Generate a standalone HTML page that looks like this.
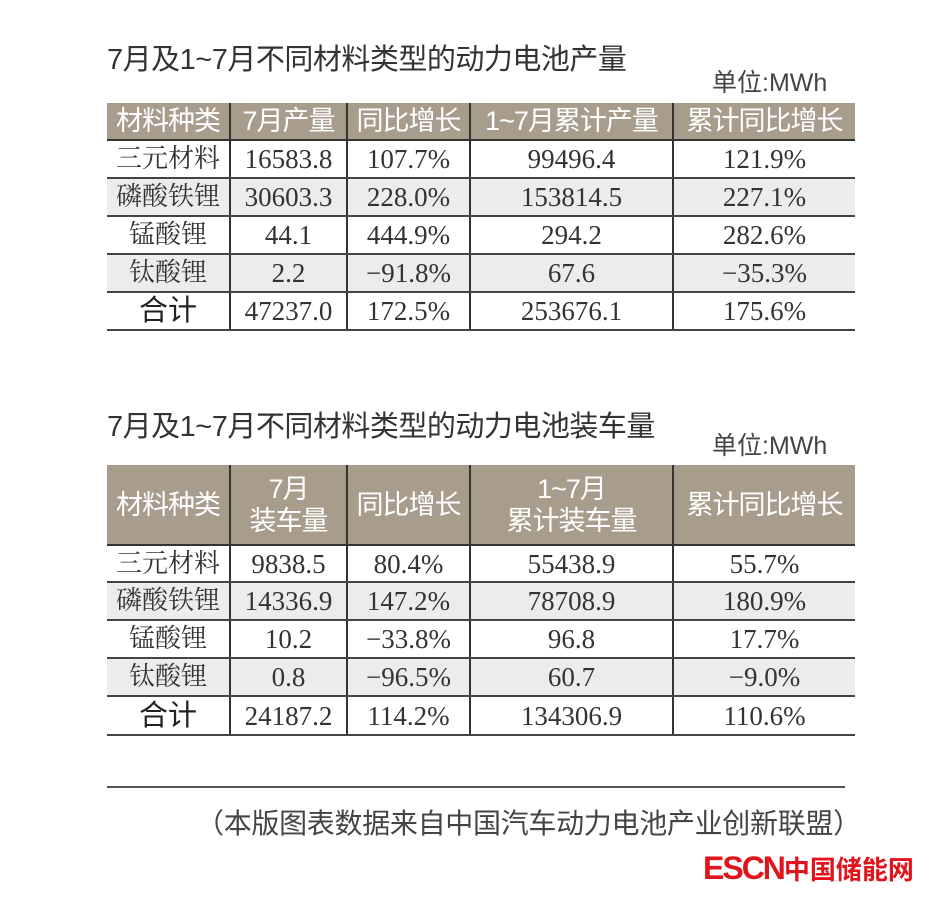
<!DOCTYPE html>
<html><head><meta charset="utf-8">
<style>
body{margin:0;width:936px;height:900px;background:#fff;position:relative;overflow:hidden;font-family:"Liberation Sans","Noto Sans CJK SC",sans-serif;color:#333}
.t{position:absolute;left:107px;font-size:29px;color:#333;letter-spacing:-0.5px}
.u{position:absolute;left:712px;font-size:25px;color:#444}
table{position:absolute;left:107px;width:748px;border-collapse:collapse;table-layout:fixed}
td{text-align:center;font-family:"Liberation Serif","Noto Serif CJK SC",serif;font-size:27px;line-height:30px;color:#333;border-left:2px solid #333;border-bottom:2px solid #444;padding:0;white-space:nowrap;overflow:hidden}
td:first-child{border-left:none;font-size:26px}
th{background:#a89d8d;color:#fff;font-weight:normal;font-size:27px;border-left:2px solid #333;border-bottom:2px solid #333;padding:0;line-height:32px;white-space:nowrap;overflow:hidden;letter-spacing:-1px}
th:first-child{border-left:none}
tr.g td{background:#ececea}
td.b{font-family:"Liberation Sans","Noto Sans CJK SC",sans-serif;font-size:29px;color:#222}
</style></head><body>
<div class="t" style="top:36px">7月及1~7月不同材料类型的动力电池产量</div>
<div class="u" style="top:63px">单位:MWh</div>
<table style="top:103px">
<col style="width:123px"><col style="width:117px"><col style="width:123px"><col style="width:203px"><col style="width:182px">
<tr style="height:37px"><th>材料种类</th><th>7月产量</th><th>同比增长</th><th>1~7月累计产量</th><th>累计同比增长</th></tr>
<tr style="height:38px"><td>三元材料</td><td>16583.8</td><td>107.7%</td><td>99496.4</td><td>121.9%</td></tr>
<tr class="g" style="height:38px"><td>磷酸铁锂</td><td>30603.3</td><td>228.0%</td><td>153814.5</td><td>227.1%</td></tr>
<tr style="height:38px"><td>锰酸锂</td><td>44.1</td><td>444.9%</td><td>294.2</td><td>282.6%</td></tr>
<tr class="g" style="height:38px"><td>钛酸锂</td><td>2.2</td><td>−91.8%</td><td>67.6</td><td>−35.3%</td></tr>
<tr style="height:38px"><td class="b">合计</td><td>47237.0</td><td>172.5%</td><td>253676.1</td><td>175.6%</td></tr>
</table>
<div class="t" style="top:403px">7月及1~7月不同材料类型的动力电池装车量</div>
<div class="u" style="top:426px">单位:MWh</div>
<table style="top:465px">
<col style="width:123px"><col style="width:117px"><col style="width:123px"><col style="width:203px"><col style="width:182px">
<tr style="height:80px"><th>材料种类</th><th>7月<br>装车量</th><th>同比增长</th><th>1~7月<br>累计装车量</th><th>累计同比增长</th></tr>
<tr style="height:37px"><td>三元材料</td><td>9838.5</td><td>80.4%</td><td>55438.9</td><td>55.7%</td></tr>
<tr class="g" style="height:38px"><td>磷酸铁锂</td><td>14336.9</td><td>147.2%</td><td>78708.9</td><td>180.9%</td></tr>
<tr style="height:38px"><td>锰酸锂</td><td>10.2</td><td>−33.8%</td><td>96.8</td><td>17.7%</td></tr>
<tr class="g" style="height:38px"><td>钛酸锂</td><td>0.8</td><td>−96.5%</td><td>60.7</td><td>−9.0%</td></tr>
<tr style="height:39px"><td class="b">合计</td><td>24187.2</td><td>114.2%</td><td>134306.9</td><td>110.6%</td></tr>
</table>
<div style="position:absolute;left:107px;top:786px;width:738px;height:2px;background:#555"></div>
<div style="position:absolute;left:196px;top:802px;font-size:28px;color:#444;letter-spacing:-0.3px">（本版图表数据来自中国汽车动力电池产业创新联盟）</div>
<div style="position:absolute;left:703px;top:850px;font-size:32px;font-weight:bold;color:#e2141b;letter-spacing:-2px">ESCN<span style="font-size:26px;letter-spacing:0">中国储能网</span></div>
</body></html>
